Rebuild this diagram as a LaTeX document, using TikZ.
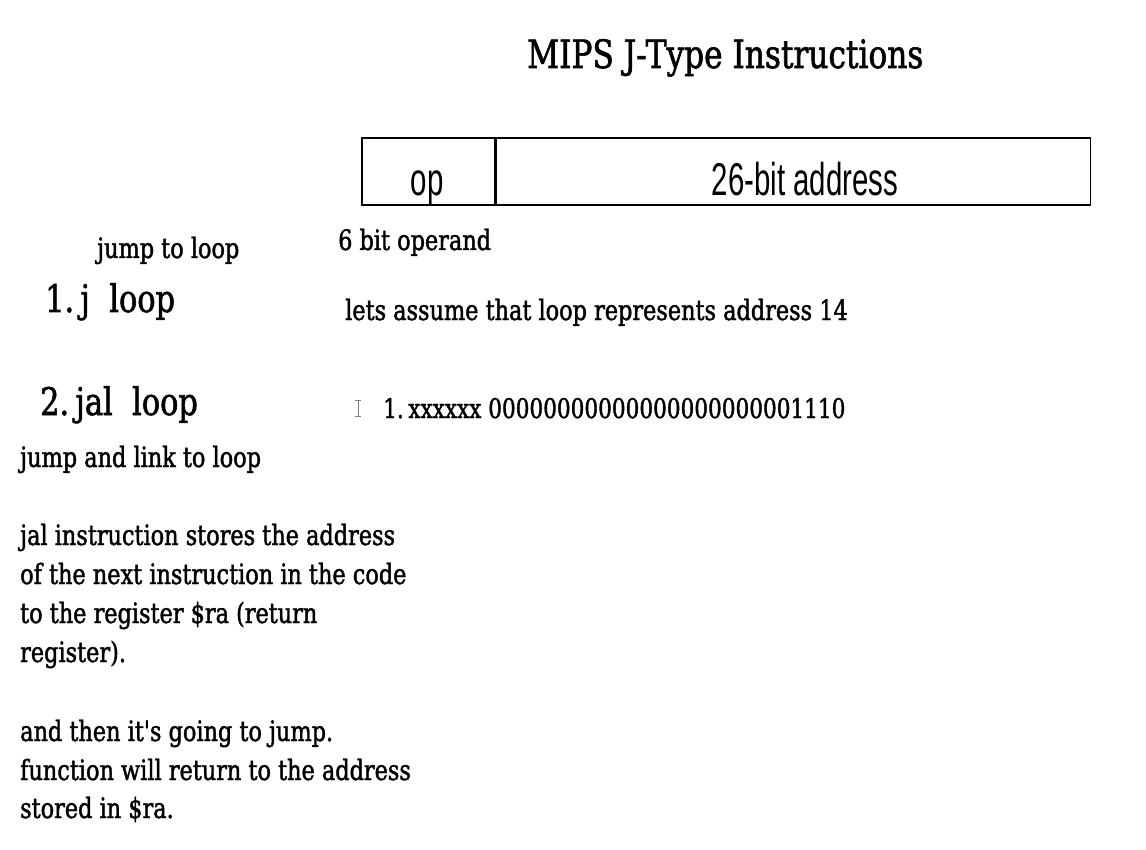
\documentclass[tikz,border=0pt]{standalone}
\usepackage{fontspec}
\setmainfont[FakeStretch=0.8,FakeBold=1.5]{DejaVu Serif}
\newfontfamily\fieldfont[FakeStretch=0.64]{Liberation Sans}
\newcommand{\straightquote}{{\addfontfeatures{Ligatures=TeXOff}'}}
\begin{document}
\begin{tikzpicture}[x=1pt,y=-1pt,
  txt/.style={anchor=base west, inner sep=0pt, font=\fontsize{28}{34}\selectfont},
  big/.style={anchor=base west, inner sep=0pt, font=\fontsize{38}{44}\selectfont},
  field/.style={draw, line width=1.6pt, anchor=north west, inner sep=0pt,
    minimum height=67pt},
  fieldtxt/.style={anchor=base, inner sep=0pt, font=\fieldfont\fontsize{46}{50}\selectfont}]
\useasboundingbox (0,0) rectangle (1146,850);

% heading
\node[anchor=base west, inner sep=0pt, font=\fontsize{39}{46}\selectfont] (title) at (527,68) {MIPS J-Type Instructions};

% J-type instruction format
\node[field, minimum width=133pt] (op) at (361,137) {};
\node[field, minimum width=594pt] (addr) at (op.north east) {};
\node[fieldtxt] (oplbl) at (427,196) {op};
\node[fieldtxt] (addrlbl) at (805,196) {26-bit address};

\node[txt] (operand) at (338,250) {6 bit operand};

% left column: instructions
\node[txt] (jnote) at (97,258) {jump to loop};
\node[big] (j) at (45,312) {1.\,j\ \ loop};
\node[big] (jal) at (40,415) {2.\,jal\ \ loop};
\node[txt] (jalnote) at (20,467) {jump and link to loop};

% right column: encoding example
\node[txt] (assume) at (345,320) {lets assume that loop represents address 14};
\node[txt, font=\fontsize{27}{34}\selectfont] (enc) at (383,418) {1.\,xxxxxx 00000000000000000000001110};

% text cursor
\draw[gray, line width=0.8pt] (355,400) -- (361,400) (358,400) -- (358,416) (355,416) -- (361,416);

% explanation of jal
\node[txt] (p1) at (20,545) {jal instruction stores the address};
\node[txt] (p2) at (20,584) {of the next instruction in the code};
\node[txt] (p3) at (20,623) {to the register \$ra (return};
\node[txt] (p4) at (20,662) {register).};
\node[txt] (p5) at (20,741) {and then it\straightquote s going to jump.};
\node[txt] (p6) at (20,780) {function will return to the address};
\node[txt] (p7) at (20,818) {stored in \$ra.};
\end{tikzpicture}
\end{document}
